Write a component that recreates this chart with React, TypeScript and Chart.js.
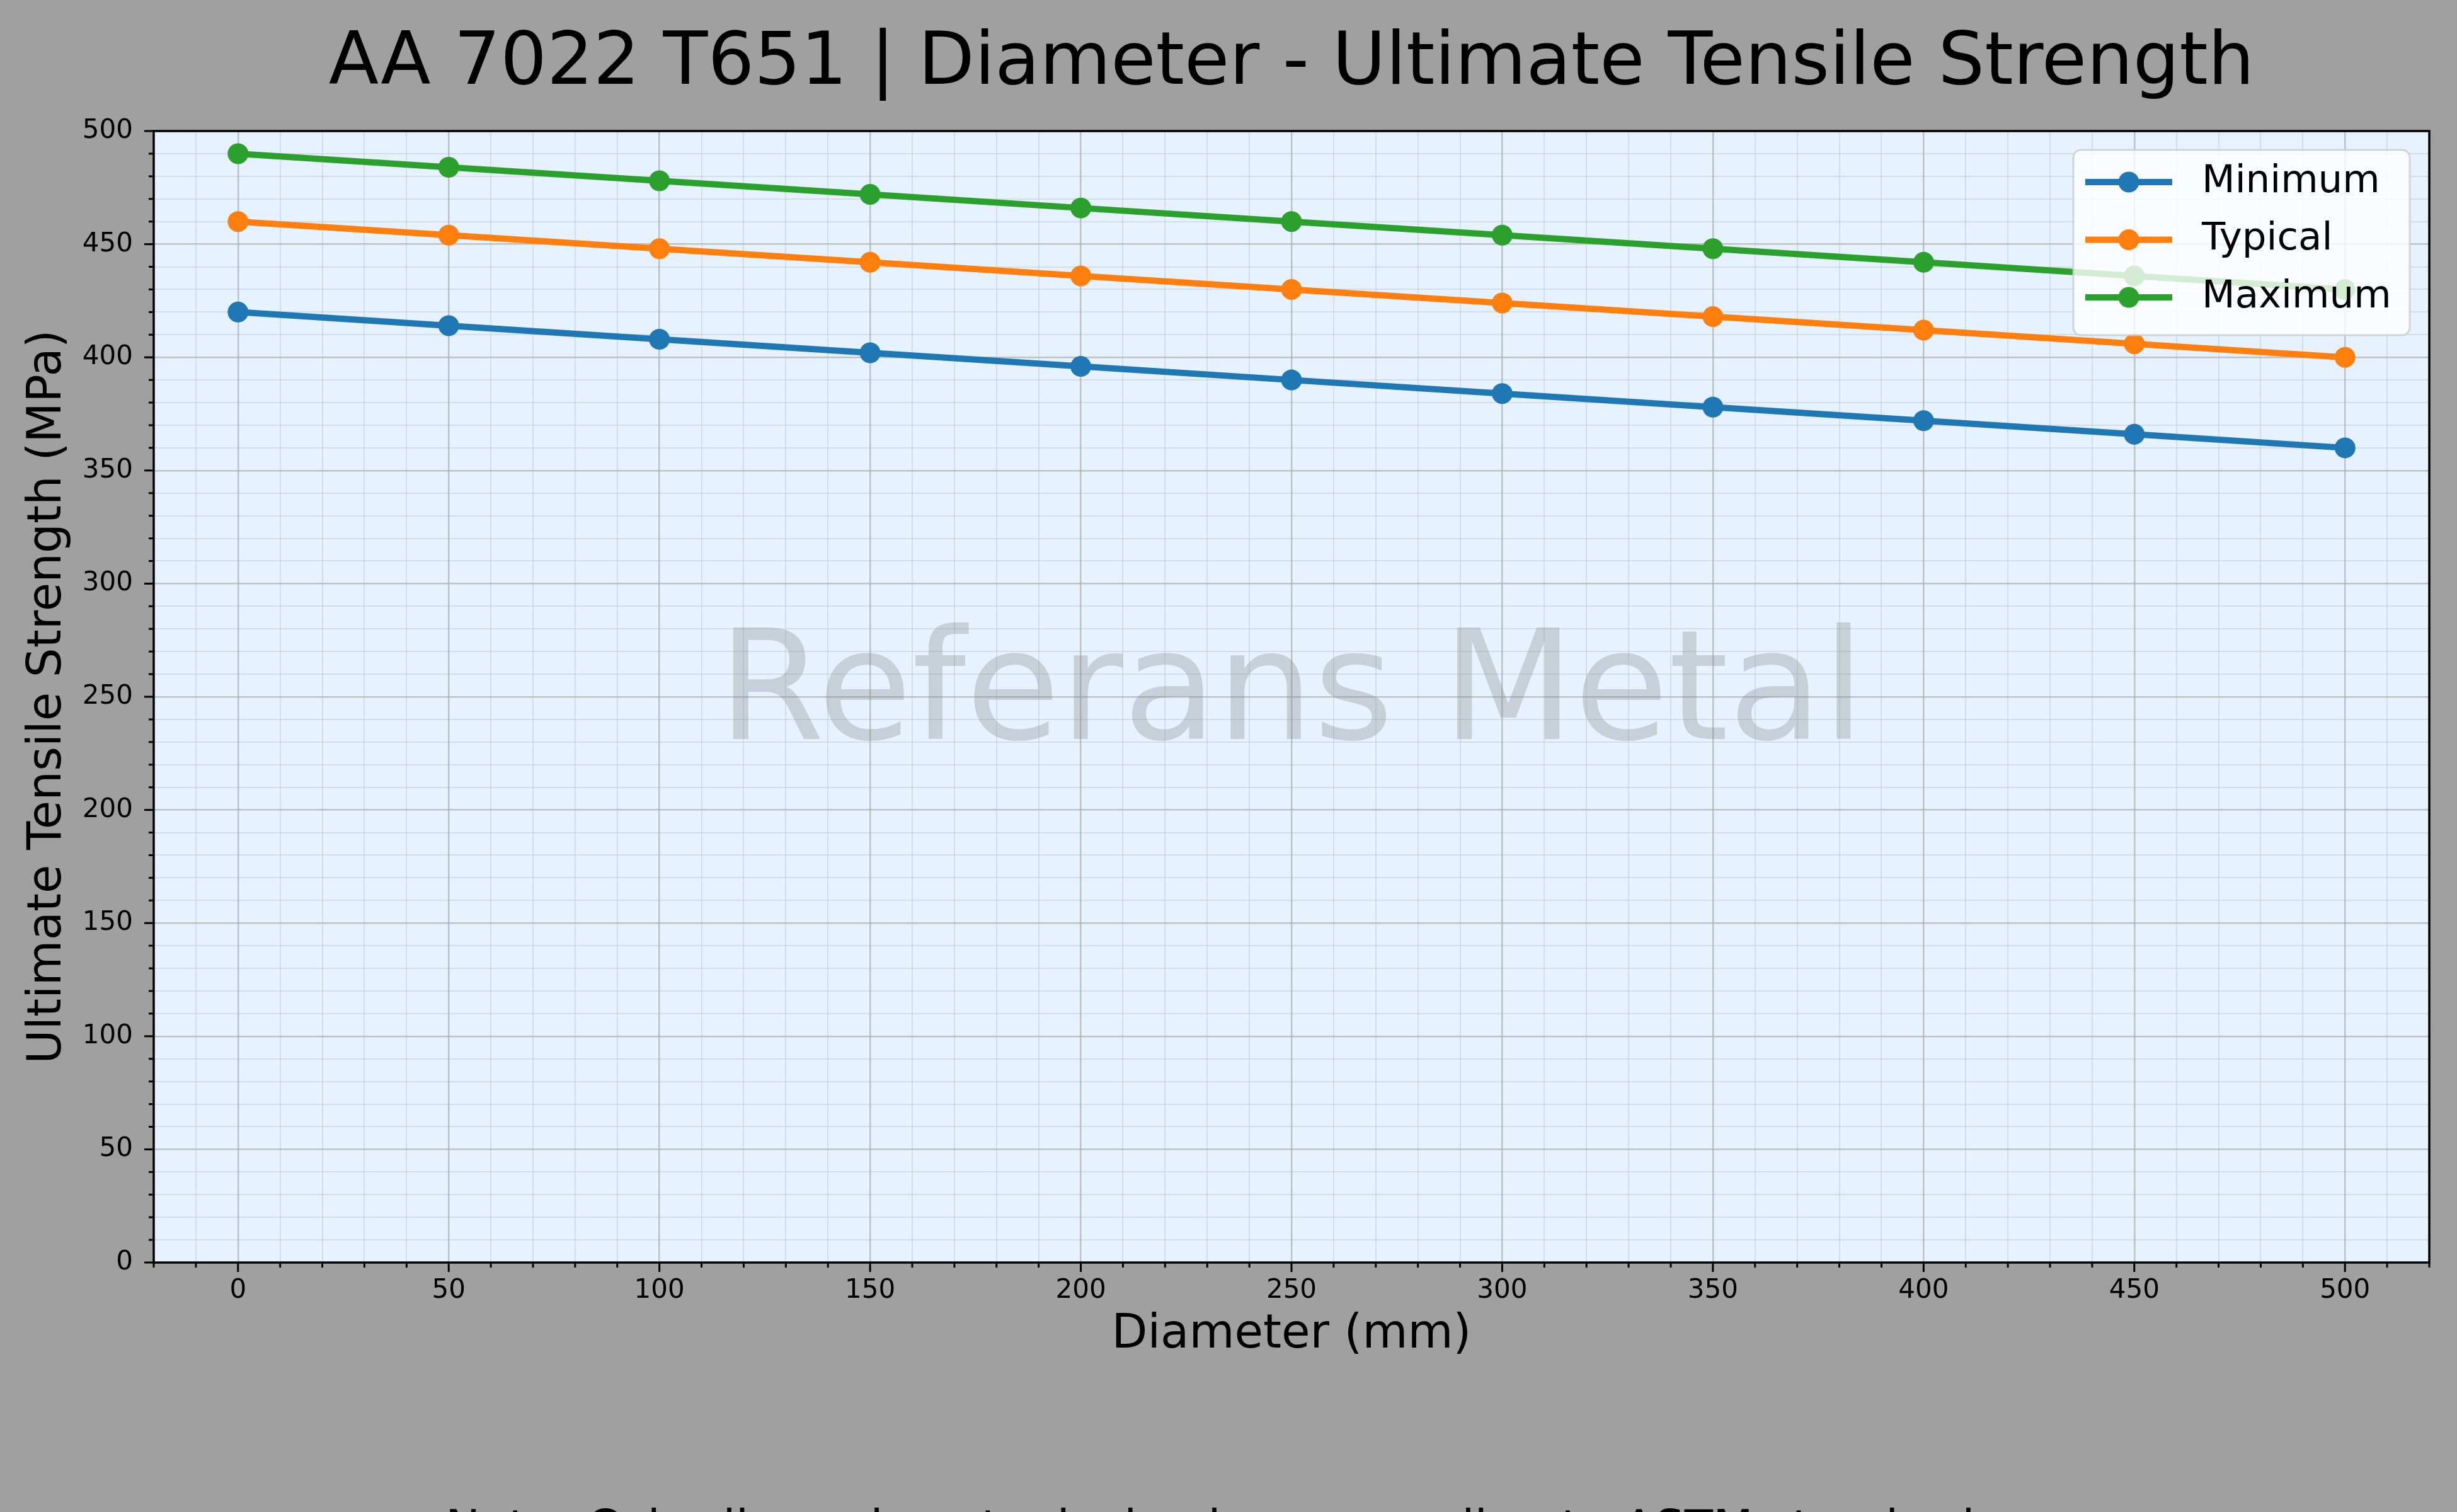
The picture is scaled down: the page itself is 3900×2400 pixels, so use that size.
import { useEffect, useRef } from 'react'
import { Chart, registerables } from 'chart.js'

Chart.register(...registerables)

// Values
const diameters = [0, 50, 100, 150, 200, 250, 300, 350, 400, 450, 500]
const minimumUts = [420, 414, 408, 402, 396, 390, 384, 378, 372, 366, 360]
const typicalUts = [460, 454, 448, 442, 436, 430, 424, 418, 412, 406, 400]
const maximumUts = [490, 484, 478, 472, 466, 460, 454, 448, 442, 436, 430]
const seriesLabels = ['Minimum', 'Typical', 'Maximum']
const seriesColors = ['#1f77b4', '#ff7f0e', '#2ca02c']

const titleText = 'AA 7022 T651 | Diameter - Ultimate Tensile Strength'
const xTitle = 'Diameter (mm)'
const yTitle = 'Ultimate Tensile Strength (MPa)'
const watermarkText = 'Referans Metal'
const noteText = 'Note: Color lines show typical values according to ASTM standards'

const FONT = "'DejaVu Sans', 'Noto Sans', sans-serif"
const MAJOR = 50
const MINOR = 10

const isMajor = (v: number) => Math.abs(v % MAJOR) < 1e-6

const majorGrid = 'rgba(176, 176, 176, 0.75)'
const minorGrid = 'rgba(176, 176, 176, 0.3)'

const backgroundPlugin = {
  id: 'figureBackground',
  beforeDraw(chart: Chart) {
    const { ctx, chartArea } = chart
    ctx.save()
    ctx.fillStyle = '#a0a0a0'
    ctx.fillRect(0, 0, chart.width, chart.height)
    ctx.fillStyle = '#e6f2ff'
    ctx.fillRect(chartArea.left, chartArea.top, chartArea.right - chartArea.left, chartArea.bottom - chartArea.top)
    ctx.restore()
  }
}

const watermarkPlugin = {
  id: 'watermark',
  beforeDatasetsDraw(chart: Chart) {
    const { ctx, chartArea } = chart
    const cx = (chartArea.left + chartArea.right) / 2
    const cy = (chartArea.top + chartArea.bottom) / 2
    ctx.save()
    ctx.font = `243px ${FONT}`
    ctx.fillStyle = 'rgba(128, 128, 128, 0.3)'
    ctx.textAlign = 'center'
    ctx.textBaseline = 'alphabetic'
    ctx.fillText(watermarkText, cx, cy + 67)
    ctx.restore()
  }
}

const framePlugin = {
  id: 'frameAndTicks',
  afterDatasetsDraw(chart: Chart) {
    const { ctx, chartArea } = chart
    const xScale: any = chart.scales.x
    const yScale: any = chart.scales.y
    ctx.save()
    ctx.strokeStyle = '#000000'
    ctx.lineWidth = 3
    xScale.ticks.forEach((t: any) => {
      const px = xScale.getPixelForValue(t.value)
      const len = isMajor(t.value) ? 15 : 8
      ctx.beginPath()
      ctx.moveTo(px, chartArea.bottom)
      ctx.lineTo(px, chartArea.bottom + len)
      ctx.stroke()
    })
    yScale.ticks.forEach((t: any) => {
      const py = yScale.getPixelForValue(t.value)
      const len = isMajor(t.value) ? 15 : 8
      ctx.beginPath()
      ctx.moveTo(chartArea.left, py)
      ctx.lineTo(chartArea.left - len, py)
      ctx.stroke()
    })
    ctx.lineWidth = 3.5
    ctx.strokeRect(chartArea.left, chartArea.top, chartArea.right - chartArea.left, chartArea.bottom - chartArea.top)
    ctx.restore()
  }
}

const legendPlugin = {
  id: 'boxLegend',
  afterDatasetsDraw(chart: Chart) {
    const { ctx, chartArea } = chart
    const boxRight = chartArea.right - 31
    const boxLeft = boxRight - 534
    const boxTop = chartArea.top + 30
    const boxHeight = 294
    ctx.save()
    ctx.beginPath()
    ctx.roundRect(boxLeft, boxTop, boxRight - boxLeft, boxHeight, 12)
    ctx.fillStyle = 'rgba(255, 255, 255, 0.8)'
    ctx.fill()
    ctx.strokeStyle = 'rgba(204, 204, 204, 0.8)'
    ctx.lineWidth = 3
    ctx.stroke()
    chart.data.datasets.forEach((ds: any, i: number) => {
      const cy = boxTop + 51 + i * 91.5
      const x0 = boxLeft + 19
      ctx.strokeStyle = ds.borderColor
      ctx.lineWidth = 10
      ctx.beginPath()
      ctx.moveTo(x0, cy)
      ctx.lineTo(x0 + 138, cy)
      ctx.stroke()
      ctx.fillStyle = ds.borderColor
      ctx.beginPath()
      ctx.arc(x0 + 69, cy, 16.5, 0, Math.PI * 2)
      ctx.fill()
      ctx.fillStyle = '#000000'
      ctx.font = `61px ${FONT}`
      ctx.textAlign = 'left'
      ctx.textBaseline = 'middle'
      ctx.fillText(ds.label, boxLeft + 204, cy)
    })
    ctx.restore()
  }
}

const textPlugin = {
  id: 'figureTexts',
  afterDraw(chart: Chart) {
    const { ctx, chartArea } = chart
    ctx.save()
    ctx.fillStyle = '#000000'
    ctx.textAlign = 'center'
    ctx.textBaseline = 'alphabetic'
    ctx.font = `116px ${FONT}`
    ctx.fillText(titleText, (chartArea.left + chartArea.right) / 2, 133)
    ctx.font = `74px ${FONT}`
    ctx.fillText(noteText, chart.width / 2 - 10, 2450)
    ctx.restore()
  }
}

export default function App() {
  const canvasRef = useRef<HTMLCanvasElement>(null)
  const chartRef = useRef<Chart | null>(null)

  useEffect(() => {
    if (!canvasRef.current) return
    if (chartRef.current) chartRef.current.destroy()

    const toPoints = (vals: number[]) => diameters.map((d, i) => ({ x: d, y: vals[i] }))
    const seriesValues = [minimumUts, typicalUts, maximumUts]

    chartRef.current = new Chart(canvasRef.current, {
      type: 'line',
      data: {
        datasets: seriesLabels.map((label, i) => ({
          label,
          data: toPoints(seriesValues[i]),
          borderColor: seriesColors[i],
          backgroundColor: seriesColors[i],
          borderWidth: 10,
          pointRadius: 16.5,
          pointHoverRadius: 16.5,
          pointBorderWidth: 0,
          borderJoinStyle: 'round' as const,
          borderCapStyle: 'round' as const,
          tension: 0
        }))
      },
      options: {
        responsive: false,
        animation: false,
        devicePixelRatio: 1,
        layout: { padding: { top: 208, right: 44, left: 0, bottom: 196 } },
        plugins: {
          legend: { display: false },
          title: { display: false },
          tooltip: { enabled: false }
        },
        scales: {
          x: {
            type: 'linear',
            min: -20,
            max: 520,
            afterFit: (scale: any) => { scale.height = 200 },
            border: { display: false },
            grid: {
              drawTicks: false,
              color: (c: any) => (isMajor(c.tick.value) ? majorGrid : minorGrid),
              lineWidth: (c: any) => (isMajor(c.tick.value) ? 2.5 : 2)
            },
            ticks: {
              stepSize: MINOR,
              autoSkip: false,
              maxRotation: 0,
              padding: 20,
              color: '#000000',
              font: { family: FONT, size: 42 },
              callback: (v: any) => (isMajor(Number(v)) ? String(v) : '')
            },
            title: {
              display: true,
              text: xTitle,
              color: '#000000',
              font: { family: FONT, size: 74 },
              padding: { top: 0, bottom: 40 }
            }
          },
          y: {
            type: 'linear',
            min: 0,
            max: 500,
            afterFit: (scale: any) => { scale.width = 244 },
            border: { display: false },
            grid: {
              drawTicks: false,
              color: (c: any) => (isMajor(c.tick.value) ? majorGrid : minorGrid),
              lineWidth: (c: any) => (isMajor(c.tick.value) ? 2.5 : 2)
            },
            ticks: {
              stepSize: MINOR,
              autoSkip: false,
              padding: 33,
              color: '#000000',
              font: { family: FONT, size: 42 },
              callback: (v: any) => (isMajor(Number(v)) ? String(v) : '')
            },
            title: {
              display: true,
              text: yTitle,
              color: '#000000',
              font: { family: FONT, size: 74 },
              padding: { top: 32, bottom: 0 }
            }
          }
        }
      },
      plugins: [backgroundPlugin, watermarkPlugin, framePlugin, legendPlugin, textPlugin]
    })

    return () => {
      if (chartRef.current) {
        chartRef.current.destroy()
        chartRef.current = null
      }
    }
  }, [])

  return (
    <div style={{ position: 'absolute', left: 0, top: 0, width: 3900, height: 2400, background: '#a0a0a0' }}>
      <canvas ref={canvasRef} width={3900} height={2400} style={{ width: 3900, height: 2400, display: 'block' }} />
    </div>
  )
}
